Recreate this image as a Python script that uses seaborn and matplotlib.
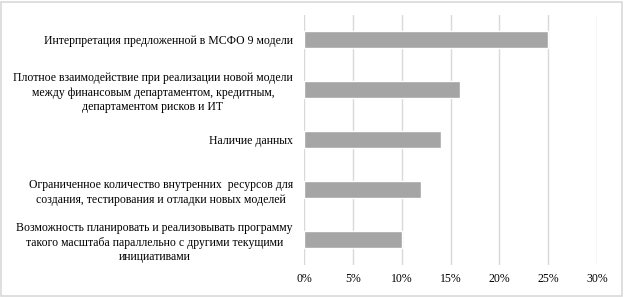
import numpy as np
import pandas as pd
import seaborn as sns
import matplotlib.pyplot as plt
from matplotlib.ticker import PercentFormatter

labels = [
    "Интерпретация предложенной в МСФО 9 модели",
    "Плотное взаимодействие при реализации новой модели\nмежду финансовым департаментом, кредитным,\nдепартаментом рисков и ИТ",
    "Наличие данных",
    "Ограниченное количество внутренних  ресурсов для\nсоздания, тестирования и отладки новых моделей",
    "Возможность планировать и реализовывать программу\nтакого масштаба параллельно с другими текущими\nинициативами",
]
values = [25, 16, 14, 12, 10]
xticks = [0, 5, 10, 15, 20, 25, 30]

df = pd.DataFrame({"label": labels, "value": values})

sns.set_style("white")
plt.rcParams["font.family"] = ["Liberation Serif", "DejaVu Serif"]

fig = plt.figure(figsize=(6.24, 2.97), dpi=100)
ax = fig.add_axes([0.487, 0.108, 0.47, 0.842])

sns.barplot(data=df, y="label", x="value", orient="h", color="#a5a5a5",
            width=0.34, saturation=1, ax=ax, zorder=3)

ax.set_xlim(0, 30)
ax.set_xticks(xticks)
ax.xaxis.set_major_formatter(PercentFormatter(decimals=0))
ax.set_ylim(4.5, -0.5)
ax.grid(axis="x", color="#d9d9d9", linewidth=1, zorder=0)
ax.set_xlabel("")
ax.set_ylabel("")
for s in ax.spines.values():
    s.set_visible(False)
ax.tick_params(axis="both", length=0, labelsize=8.5, colors="#000000")
ax.tick_params(axis="y", pad=8)
ax.tick_params(axis="x", pad=6)
for t in ax.get_yticklabels():
    t.set_multialignment("center")
    t.set_linespacing(1.27)

fig.patches.append(plt.Rectangle((0.002, 0.004), 0.995, 0.99, transform=fig.transFigure,
                                 fill=False, edgecolor="#d9d9d9", linewidth=1.2))

fig.savefig("out.png", dpi=100)
